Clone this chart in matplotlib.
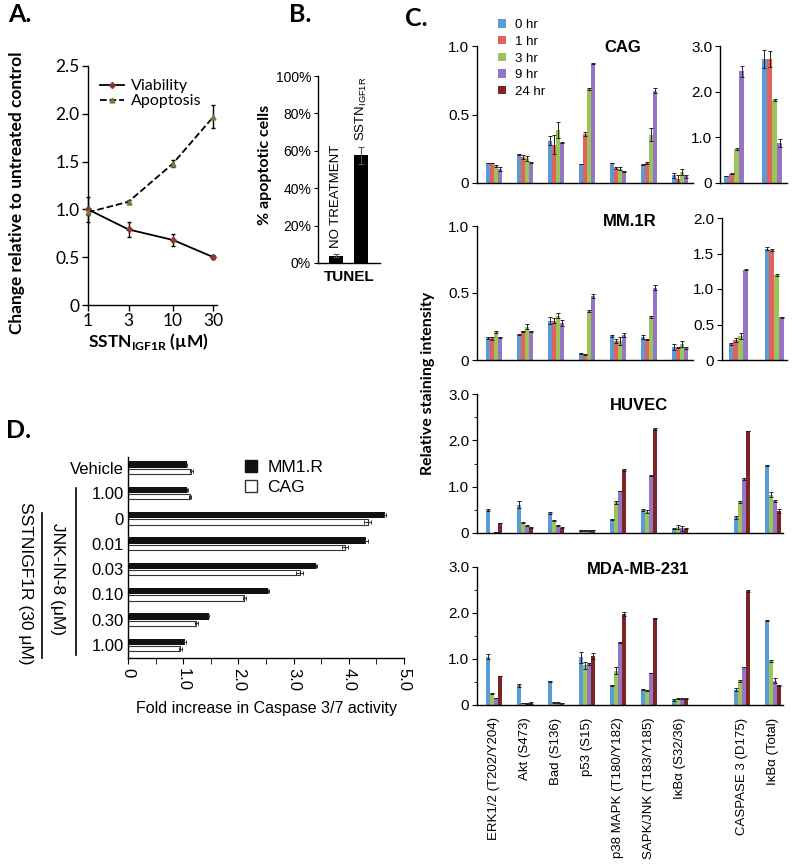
import numpy as np
import matplotlib
matplotlib.use('Agg')
import matplotlib.pyplot as plt
from matplotlib.ticker import MultipleLocator, FixedLocator, FuncFormatter, NullLocator
from matplotlib.patches import Patch
from matplotlib.lines import Line2D

plt.rcParams['font.family'] = ['Liberation Sans', 'DejaVu Sans']
plt.rcParams['mathtext.fontset'] = 'custom'
plt.rcParams['mathtext.rm'] = 'Liberation Sans'
plt.rcParams['mathtext.bf'] = 'Lato:bold'
plt.rcParams['axes.linewidth'] = 1.0

# ---------------- data ----------------
# Panel A
dose = [1, 3, 10, 30]
viability = [1.00, 0.79, 0.68, 0.50]
viability_err = [0.13, 0.08, 0.06, 0.02]
apoptosis = [0.97, 1.08, 1.48, 1.97]
apoptosis_err = [0.03, 0.02, 0.04, 0.12]

# Panel B
tunel_labels = ['NO TREATMENT', r'SSTN$_{\mathrm{IGF1R}}$']
tunel_values = [4.0, 57.5]
tunel_err = [1.0, 4.5]

# Panel C
targets = ['ERK1/2 (T202/Y204)', 'Akt (S473)', 'Bad (S136)', 'p53 (S15)',
           'p38 MAPK (T180/Y182)', 'SAPK/JNK (T183/Y185)', 'IκBα (S32/36)',
           'CASPASE 3 (D175)', 'IκBα (Total)']
time_labels = ['0 hr', '1 hr', '3 hr', '9 hr', '24 hr']
time_colors = ['#5B9BD5', '#E2625B', '#9DC35B', '#9676C4', '#7B2525']

cag_times = ['0 hr', '1 hr', '3 hr', '9 hr']
cag_values = [
    [0.146, 0.207, 0.31, 0.14, 0.146, 0.136, 0.056, 0.153, 2.72],
    [0.146, 0.19, 0.28, 0.36, 0.11, 0.146, 0.027, 0.20, 2.72],
    [0.124, 0.18, 0.385, 0.686, 0.105, 0.353, 0.08, 0.745, 1.82],
    [0.105, 0.148, 0.294, 0.871, 0.085, 0.674, 0.05, 2.45, 0.876],
]
cag_errors = [
    [0.002, 0.005, 0.035, 0.002, 0.002, 0.005, 0.02, 0.01, 0.20],
    [0.002, 0.012, 0.07, 0.015, 0.005, 0.01, 0.03, 0.01, 0.17],
    [0.005, 0.02, 0.06, 0.01, 0.01, 0.05, 0.02, 0.03, 0.03],
    [0.015, 0.005, 0.003, 0.003, 0.003, 0.02, 0.01, 0.12, 0.08],
]

mm1r_times = ['0 hr', '1 hr', '3 hr', '9 hr']
mm1r_values = [
    [0.164, 0.19, 0.293, 0.05, 0.18, 0.17, 0.097, 0.227, 1.57],
    [0.162, 0.214, 0.293, 0.04, 0.144, 0.154, 0.092, 0.283, 1.55],
    [0.209, 0.25, 0.33, 0.365, 0.14, 0.32, 0.12, 0.34, 1.20],
    [0.169, 0.214, 0.276, 0.48, 0.19, 0.54, 0.09, 1.27, 0.60],
]
mm1r_errors = [
    [0.005, 0.003, 0.025, 0.005, 0.01, 0.015, 0.02, 0.01, 0.02],
    [0.01, 0.005, 0.02, 0.005, 0.015, 0.003, 0.003, 0.03, 0.02],
    [0.01, 0.015, 0.02, 0.01, 0.03, 0.01, 0.02, 0.04, 0.01],
    [0.003, 0.003, 0.02, 0.015, 0.015, 0.02, 0.01, 0.005, 0.003],
]

huvec_times = ['0 hr', '3 hr', '9 hr', '24 hr']
huvec_values = [
    [0.49, 0.61, 0.43, 0.06, 0.30, 0.49, 0.093, 0.34, 1.45],
    [0.0, 0.235, 0.27, 0.06, 0.66, 0.46, 0.13, 0.66, 0.83],
    [0.02, 0.16, 0.165, 0.05, 0.91, 1.24, 0.10, 1.16, 0.69],
    [0.22, 0.12, 0.115, 0.065, 1.36, 2.24, 0.09, 2.20, 0.47],
]
huvec_errors = [
    [0.02, 0.08, 0.03, 0.01, 0.01, 0.02, 0.01, 0.03, 0.01],
    [0.0, 0.01, 0.02, 0.01, 0.03, 0.03, 0.04, 0.02, 0.05],
    [0.0, 0.005, 0.005, 0.005, 0.005, 0.005, 0.05, 0.02, 0.02],
    [0.005, 0.005, 0.005, 0.005, 0.03, 0.02, 0.01, 0.005, 0.04],
]

mda_times = ['0 hr', '3 hr', '9 hr', '24 hr']
mda_values = [
    [1.05, 0.43, 0.52, 1.04, 0.43, 0.33, 0.11, 0.33, 1.83],
    [0.255, 0.04, 0.055, 0.86, 0.75, 0.32, 0.14, 0.52, 0.95],
    [0.15, 0.035, 0.055, 0.89, 1.36, 0.70, 0.14, 0.83, 0.53],
    [0.63, 0.04, 0.045, 1.06, 1.98, 1.89, 0.14, 2.48, 0.43],
]
mda_errors = [
    [0.05, 0.03, 0.01, 0.12, 0.01, 0.01, 0.03, 0.03, 0.01],
    [0.01, 0.005, 0.005, 0.07, 0.07, 0.01, 0.02, 0.03, 0.02],
    [0.005, 0.005, 0.005, 0.03, 0.005, 0.005, 0.01, 0.005, 0.05],
    [0.01, 0.02, 0.005, 0.06, 0.05, 0.01, 0.01, 0.02, 0.01],
]

# Panel D
jnk_labels = ['Vehicle', '1.00', '0', '0.01', '0.03', '0.10', '0.30', '1.00']
mm1r_casp = [1.06, 1.07, 4.65, 4.32, 3.41, 2.54, 1.46, 1.03]
mm1r_casp_err = [0.01, 0.01, 0.02, 0.02, 0.01, 0.01, 0.01, 0.02]
cag_casp = [1.15, 1.12, 4.34, 3.93, 3.11, 2.11, 1.24, 0.95]
cag_casp_err = [0.03, 0.02, 0.06, 0.05, 0.06, 0.02, 0.02, 0.02]

# ---------------- figure ----------------
W, H = 800, 866
fig = plt.figure(figsize=(8, 8.66), dpi=100)


def add_ax(l, t, r, b):
    return fig.add_axes([l / W, 1 - b / H, (r - l) / W, (b - t) / H])


def fx(px):
    return px / W


def fy(py):
    return 1 - py / H


def fmt0(v, pos):
    return '0' if abs(v) < 1e-9 else '%.1f' % v


def clean(ax):
    ax.spines['top'].set_visible(False)
    ax.spines['right'].set_visible(False)


# Panel letters
for lbl, (x, y) in {'A.': (8, 15), 'B.': (289, 15), 'C.': (405, 19), 'D.': (6, 430)}.items():
    fig.text(fx(x), fy(y), lbl, fontsize=18, fontweight='bold', family='Lato',
             ha='left', va='center')

# ---------------- Panel A ----------------
axA = add_ax(88, 66, 217, 305)
axA.set_xscale('log')
axA.errorbar(dose, viability, yerr=viability_err, fmt='-', color='black', lw=1.3,
             marker='D', ms=3, mfc='#8B3A2A', mec='#8B3A2A', ecolor='black',
             elinewidth=1.0, capsize=1.5, clip_on=False, zorder=3)
axA.errorbar(dose, apoptosis, yerr=apoptosis_err, fmt='--', color='black', lw=1.3,
             marker='^', ms=3.5, mfc='#6E7D3A', mec='#6E7D3A', ecolor='black',
             elinewidth=1.0, capsize=1.5, clip_on=False, zorder=3)
axA.set_xlim(1, 33)
axA.set_ylim(0, 2.5)
axA.xaxis.set_major_locator(FixedLocator(dose))
axA.xaxis.set_minor_locator(NullLocator())
axA.set_xticklabels([str(d) for d in dose])
axA.yaxis.set_major_locator(MultipleLocator(0.5))
axA.yaxis.set_major_formatter(FuncFormatter(fmt0))
axA.tick_params(labelsize=12.5, length=4, width=1.0, pad=2)
for t in axA.get_xticklabels() + axA.get_yticklabels():
    t.set_family('Lato')
clean(axA)
hA = [Line2D([], [], color='black', lw=1.3, marker='D', ms=3, mfc='#8B3A2A', mec='#8B3A2A'),
      Line2D([], [], color='black', lw=1.3, ls='--', marker='^', ms=3.5, mfc='#6E7D3A', mec='#6E7D3A')]
axA.legend(hA, ['Viability', 'Apoptosis'], loc='upper left', bbox_to_anchor=(0.02, 0.985),
           frameon=False, prop={'family': 'Lato', 'size': 11.5}, handlelength=1.5,
           handletextpad=0.4, labelspacing=0.05, borderaxespad=0.2)
fig.text(fx(17), fy(193), 'Change relative to untreated control', rotation=90,
         ha='center', va='center', fontsize=12.5, fontweight='bold', family='Lato')
fig.text(fx(148), fy(342), r'SSTN$_{\mathbf{IGF1R}}$ (µM)', ha='center', va='center',
         fontsize=12.5, fontweight='bold', family='Lato')

# ---------------- Panel B ----------------
axB = add_ax(318, 76, 380, 263)
xb = np.arange(len(tunel_values))
axB.bar(xb, tunel_values, 0.56, color='black', yerr=tunel_err,
        error_kw=dict(ecolor='#555555', elinewidth=0.8, capsize=2, capthick=0.8))
axB.set_xlim(-0.72, 1.76)
axB.set_ylim(0, 100)
axB.yaxis.set_major_locator(MultipleLocator(20))
axB.yaxis.set_major_formatter(FuncFormatter(lambda v, p: '%d%%' % v))
axB.set_xticks([])
axB.tick_params(labelsize=10, length=3, pad=2)
clean(axB)
for i in range(len(tunel_values)):
    axB.text(xb[i], tunel_values[i] + tunel_err[i] + 3, tunel_labels[i], rotation=90,
             ha='center', va='bottom', fontsize=9.5)
fig.text(fx(349), fy(277), 'TUNEL', ha='center', va='center', fontsize=11, fontweight='bold')
fig.text(fx(265), fy(165), '% apoptotic cells', rotation=90, ha='center', va='center',
         fontsize=11.5, fontweight='bold', family='Lato')

# ---------------- Panel C ----------------
pos_left = np.arange(7)
pos_right = np.array([8, 9])
pos_all = np.array([0, 1, 2, 3, 4, 5, 6, 8, 9])
bw = 0.135
err_kw = dict(ecolor='#222222', elinewidth=0.7, capsize=1.5, capthick=0.7)


def draw_bars(ax, xs, values, errors, times, sl, width):
    n = len(times)
    for k in range(n):
        col = time_colors[time_labels.index(times[k])]
        v = np.array(values[k])[sl]
        e = np.array(errors[k])[sl]
        ax.bar(xs + (k - (n - 1) / 2) * width, v, width, color=col, yerr=e,
               error_kw=err_kw, linewidth=0)


def style_c(ax, ymax, step, minor=None):
    ax.set_ylim(0, ymax)
    ax.yaxis.set_major_locator(MultipleLocator(step))
    if minor:
        ax.yaxis.set_minor_locator(MultipleLocator(minor))
    ax.yaxis.set_major_formatter(FuncFormatter(fmt0))
    ax.set_xticks([])
    ax.tick_params(axis='y', labelsize=11, length=3.5, pad=2)
    ax.tick_params(axis='y', which='minor', length=2.5)
    clean(ax)


left_sl = slice(0, 7)
right_sl = slice(7, 9)

# CAG
axc1 = add_ax(477, 46, 693, 183)
draw_bars(axc1, pos_left, cag_values, cag_errors, cag_times, left_sl, bw)
axc1.set_xlim(-0.55, 6.42)
style_c(axc1, 1.0, 0.5)
axc2 = add_ax(720, 46, 787, 183)
draw_bars(axc2, pos_right, cag_values, cag_errors, cag_times, right_sl, bw)
axc2.set_xlim(7.63, 9.39)
style_c(axc2, 3.0, 1.0)

# MM.1R
axm1 = add_ax(477, 226, 693, 360)
draw_bars(axm1, pos_left, mm1r_values, mm1r_errors, mm1r_times, left_sl, bw)
axm1.set_xlim(-0.55, 6.42)
style_c(axm1, 1.0, 0.5)
axm2 = add_ax(722, 218, 787, 360)
draw_bars(axm2, pos_right, mm1r_values, mm1r_errors, mm1r_times, right_sl, bw)
axm2.set_xlim(7.55, 9.35)
style_c(axm2, 2.0, 0.5)

# HUVEC
axh = add_ax(477, 394, 783, 533)
draw_bars(axh, pos_all, huvec_values, huvec_errors, huvec_times, slice(0, 9), bw)
axh.set_xlim(-0.55, 9.32)
style_c(axh, 3.0, 1.0, 0.5)

# MDA-MB-231
axd = add_ax(477, 567, 783, 705)
draw_bars(axd, pos_all, mda_values, mda_errors, mda_times, slice(0, 9), bw)
axd.set_xlim(-0.55, 9.32)
style_c(axd, 3.0, 1.0, 0.5)
axd.set_xticks(pos_all)
axd.set_xticklabels(targets, rotation=90, fontsize=9.5)
axd.tick_params(axis='x', length=0, pad=9)

for txt, (x, y) in {'CAG': (623, 48), 'MM.1R': (630, 221), 'HUVEC': (639, 406),
                    'MDA-MB-231': (638, 570)}.items():
    fig.text(fx(x), fy(y), txt, ha='center', va='center', fontsize=12, fontweight='bold')

fig.text(fx(428), fy(383), 'Relative staining intensity', rotation=90, ha='center',
         va='center', fontsize=11.5, fontweight='bold', family='Lato')

leg_handles = [Patch(facecolor=c, edgecolor='none') for c in time_colors]
fig.legend(leg_handles, time_labels, loc='upper left', bbox_to_anchor=(fx(493), fy(14)),
           frameon=False, fontsize=9.5, handlelength=0.6, handleheight=0.6,
           handletextpad=0.7, labelspacing=0.35, borderaxespad=0)

# ---------------- Panel D ----------------
axD = add_ax(128, 457, 404, 658)
yd = np.arange(len(jnk_labels))
axD.barh(yd - 0.13, mm1r_casp, height=0.25, color='#111111', xerr=mm1r_casp_err,
         error_kw=dict(ecolor='#333333', elinewidth=0.7, capsize=1.5, capthick=0.7))
axD.barh(yd + 0.14, cag_casp, height=0.21, color='white', edgecolor='#333333', linewidth=0.8,
         xerr=cag_casp_err, error_kw=dict(ecolor='#333333', elinewidth=0.7, capsize=1.5, capthick=0.7))
axD.set_ylim(7.51, -0.43)
axD.set_xlim(0, 5.0)
axD.set_yticks(yd)
axD.set_yticklabels(jnk_labels, fontsize=12)
axD.tick_params(axis='y', length=0, pad=3)
axD.xaxis.set_major_locator(MultipleLocator(1.0))
axD.xaxis.set_minor_locator(MultipleLocator(0.5))
axD.xaxis.set_major_formatter(FuncFormatter(fmt0))
axD.tick_params(axis='x', labelsize=12, labelrotation=-90, length=4, pad=3)
axD.tick_params(axis='x', which='minor', length=4)
clean(axD)
axD.set_xlabel('Fold increase in Caspase 3/7 activity', fontsize=11.5, labelpad=7)
hD = [Patch(facecolor='#111111', edgecolor='#111111'), Patch(facecolor='white', edgecolor='#333333')]
axD.legend(hD, ['MM1.R', 'CAG'], loc='upper left', bbox_to_anchor=((238 - 128) / 276, 1.02),
           frameon=False, fontsize=12.5, handlelength=0.7, handleheight=0.7,
           handletextpad=0.6, labelspacing=0.3, borderaxespad=0)

fig.text(fx(25), fy(583), 'SSTNIGF1R (30 μM)', rotation=270, ha='center', va='center', fontsize=12.5)
fig.text(fx(58), fy(579), 'JNK-IN-8 (μM)', rotation=270, ha='center', va='center', fontsize=12.5)
fig.add_artist(Line2D([fx(42), fx(42)], [fy(513), fy(658)], color='black', lw=1.2))
fig.add_artist(Line2D([fx(76), fx(76)], [fy(488), fy(655)], color='black', lw=1.2))

fig.savefig('out.png', dpi=100)
